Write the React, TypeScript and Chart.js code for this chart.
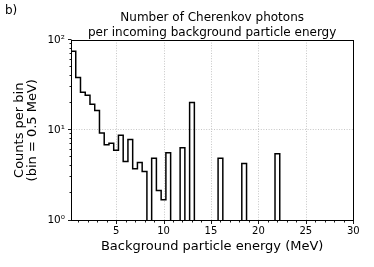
import React, { useEffect, useRef } from "react";
import { Chart, registerables } from "chart.js";

Chart.register(...registerables);

// Histogram bins (MeV), bin width 0.5 MeV
const binCenters = [
  0.5, 1.0, 1.5, 2.0, 2.5, 3.0, 3.5, 4.0, 4.5, 5.0, 5.5, 6.0, 6.5, 7.0, 7.5, 8.0,
  8.5, 9.0, 9.5, 10.0, 10.5, 11.0, 11.5, 12.0, 12.5, 13.0, 13.5, 14.0, 14.5, 15.0,
  15.5, 16.0, 16.5, 17.0, 17.5, 18.0, 18.5, 19.0, 19.5, 20.0, 20.5, 21.0, 21.5, 22.0,
];
const counts = [
  75, 38.5, 26.3, 24.5, 19.4, 16.6, 9.3, 6.9, 7.2, 6.0, 8.8, 4.5, 7.9, 3.75, 4.4, 3.5,
  0, 4.9, 2.15, 1.7, 5.65, 0, 0, 6.4, 0, 20.3, 0, 0, 0, 0,
  0, 4.9, 0, 0, 0, 0, 4.27, 0, 0, 0, 0, 0, 0, 5.5,
];
const binWidth = 0.5;

const xTicks = [5, 10, 15, 20, 25, 30];
const xMinorTicks = [1, 2, 3, 4, 6, 7, 8, 9, 11, 12, 13, 14, 16, 17, 18, 19, 21, 22, 23, 24, 26, 27, 28, 29];
const yTicks = [1, 10, 100];
const yTickLabels = ["10\u2070", "10\u00B9", "10\u00B2"];
const yMinorTicks = [2, 3, 4, 5, 6, 7, 8, 9, 20, 30, 40, 50, 60, 70, 80, 90];

const panelLabel = "b)";
const titleLines = ["Number of Cherenkov photons", "per incoming background particle energy"];
const xLabel = "Background particle energy (MeV)";
const yLabelLines = ["Counts per bin", "(bin = 0.5 MeV)"];

const FONT = "'DejaVu Sans', 'Liberation Sans', sans-serif";

export default function App() {
  const ref = useRef<HTMLCanvasElement | null>(null);

  useEffect(() => {
    const canvas = ref.current;
    if (!canvas) return;

    const floorVal = 0.1; // below axis minimum: empty bins drop to the bottom
    const pts: { x: number; y: number }[] = [];
    pts.push({ x: binCenters[0] - binWidth / 2, y: floorVal });
    binCenters.forEach((c, i) => {
      pts.push({ x: c - binWidth / 2, y: counts[i] > 0 ? counts[i] : floorVal });
    });
    pts.push({ x: binCenters[binCenters.length - 1] + binWidth / 2, y: floorVal });

    const decor = {
      id: "decor",
      beforeDatasetsDraw(chart: any) {
        const { ctx, chartArea: a, scales } = chart;
        const x = scales.x;
        const y = scales.y;
        ctx.save();
        ctx.strokeStyle = "#b8b8b8";
        ctx.lineWidth = 0.8;
        ctx.setLineDash([1, 1.6]);
        xTicks.forEach((v) => {
          if (v >= 30) return;
          const px = Math.round(x.getPixelForValue(v)) + 0.5;
          ctx.beginPath();
          ctx.moveTo(px, a.top);
          ctx.lineTo(px, a.bottom);
          ctx.stroke();
        });
        yTicks.forEach((v) => {
          if (v === 1 || v === 100) return;
          const py = Math.round(y.getPixelForValue(v)) - 0.5;
          ctx.beginPath();
          ctx.moveTo(a.left, py);
          ctx.lineTo(a.right, py);
          ctx.stroke();
        });
        ctx.restore();
      },
      afterDraw(chart: any) {
        const { ctx, chartArea: a, scales } = chart;
        const x = scales.x;
        const y = scales.y;
        ctx.save();
        // frame
        ctx.strokeStyle = "#000";
        ctx.lineWidth = 1;
        const L = Math.floor(a.left) + 0.5;
        const R = Math.floor(a.right) + 0.5;
        const T = Math.floor(a.top) + 0.5;
        const B = Math.floor(a.bottom) + 0.5;
        ctx.strokeRect(L, T, R - L, B - T);
        // ticks
        ctx.lineWidth = 0.9;
        const tick = (x1: number, y1: number, x2: number, y2: number) => {
          ctx.beginPath();
          ctx.moveTo(x1, y1);
          ctx.lineTo(x2, y2);
          ctx.stroke();
        };
        xTicks.forEach((v) => {
          const px = Math.round(x.getPixelForValue(v)) + 0.5;
          tick(px, B, px, B + 3.5);
        });
        xMinorTicks.forEach((v) => {
          const px = Math.round(x.getPixelForValue(v)) + 0.5;
          tick(px, B, px, B + 2);
        });
        yTicks.forEach((v) => {
          const py = Math.round(y.getPixelForValue(v)) - 0.5;
          tick(L, py, L - 3.5, py);
        });
        yMinorTicks.forEach((v) => {
          const py = Math.round(y.getPixelForValue(v)) - 0.5;
          tick(L, py, L - 2, py);
        });
        // texts
        ctx.fillStyle = "#000";
        ctx.textBaseline = "alphabetic";
        ctx.font = `12px ${FONT}`;
        ctx.textAlign = "left";
        ctx.fillText(panelLabel, 5, 14);
        const cx = (a.left + a.right) / 2;
        ctx.textAlign = "center";
        ctx.fillText(titleLines[0], cx, 21.4);
        ctx.fillText(titleLines[1], cx, 35.8);
        ctx.font = `13px ${FONT}`;
        ctx.fillText(xLabel, cx, 250);
        const cy = (a.top + a.bottom) / 2;
        const bases = [22.8, 36.2];
        yLabelLines.forEach((s, i) => {
          ctx.save();
          ctx.translate(bases[i], cy);
          ctx.rotate(-Math.PI / 2);
          ctx.fillText(s, 0, 0);
          ctx.restore();
        });
        ctx.restore();
      },
    };

    const chart = new Chart(canvas, {
      type: "line",
      data: {
        datasets: [
          {
            data: pts,
            borderColor: "#000",
            borderWidth: 1.5,
            pointRadius: 0,
            stepped: "before",
            fill: false,
            tension: 0,
          },
        ],
      },
      options: {
        animation: false,
        responsive: false,
        devicePixelRatio: 1,
        layout: { padding: { left: 0, right: 20.7, top: 40, bottom: 0 } },
        plugins: {
          legend: { display: false },
          tooltip: { enabled: false },
          title: { display: false },
        },
        scales: {
          x: {
            type: "linear",
            min: 0.25,
            max: 30,
            grid: { display: false, drawTicks: false },
            border: { display: false },
            afterBuildTicks: (s: any) => {
              s.ticks = xTicks.map((v) => ({ value: v }));
            },
            afterFit: (s: any) => {
              s.height = 46.5;
            },
            ticks: {
              autoSkip: false,
              maxRotation: 0,
              padding: 5,
              color: "#000",
              font: { family: FONT, size: 10 },
              callback: (v: any) => String(v),
            },
          },
          y: {
            type: "logarithmic",
            min: 1,
            max: 100,
            grid: { display: false, drawTicks: false },
            border: { display: false },
            afterBuildTicks: (s: any) => {
              s.ticks = yTicks.map((v) => ({ value: v }));
            },
            afterFit: (s: any) => {
              s.width = 71;
            },
            ticks: {
              autoSkip: false,
              padding: 6,
              color: "#000",
              font: { family: FONT, size: 10.5 },
              callback: (v: any) => {
                const i = yTicks.indexOf(Number(v));
                return i >= 0 ? yTickLabels[i] : "";
              },
            },
          },
        },
      },
      plugins: [decor],
    } as any);

    return () => chart.destroy();
  }, []);

  return (
    <div style={{ position: "fixed", left: 0, top: 0, width: 374, height: 267, background: "#fff" }}>
      <canvas ref={ref} width={374} height={267} style={{ width: 374, height: 267, display: "block" }} />
    </div>
  );
}
